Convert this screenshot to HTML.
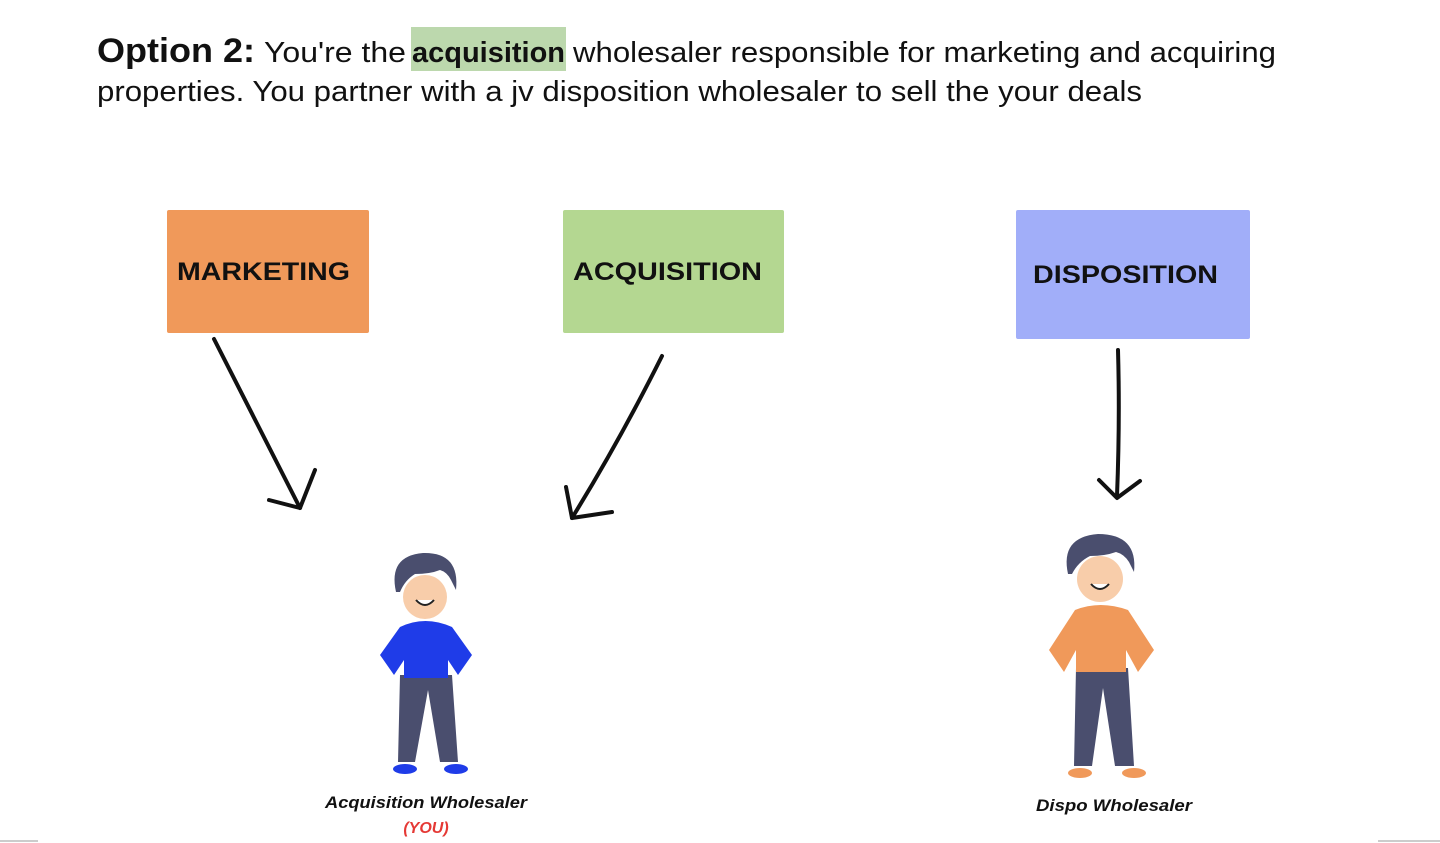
<!DOCTYPE html>
<html><head><meta charset="utf-8"><style>
html,body{margin:0;padding:0;background:#fff;width:1440px;height:843px;overflow:hidden}
svg{display:block}
</style></head><body>
<svg width="1440" height="843" viewBox="0 0 1440 843" xmlns="http://www.w3.org/2000/svg" font-family="Liberation Sans, sans-serif">
<rect x="411" y="27" width="155" height="44" fill="#bcd8ad"/>
<text x="97" y="62" font-size="34" font-weight="bold" fill="#111" textLength="158" lengthAdjust="spacingAndGlyphs">Option 2:</text>
<text x="264" y="62" font-size="29" fill="#111" textLength="142" lengthAdjust="spacingAndGlyphs">You're the</text>
<text x="412" y="62" font-size="29" font-weight="bold" fill="#111" textLength="153" lengthAdjust="spacingAndGlyphs">acquisition</text>
<text x="573" y="62" font-size="29" fill="#111" textLength="703" lengthAdjust="spacingAndGlyphs">wholesaler responsible for marketing and acquiring</text>
<text x="97" y="101" font-size="29" fill="#111" textLength="1045" lengthAdjust="spacingAndGlyphs">properties. You partner with a jv disposition wholesaler to sell the your deals</text>

<rect x="167" y="210" width="202" height="123" fill="#f0995a" rx="2"/>
<text x="177" y="280" font-size="25" font-weight="bold" fill="#111" textLength="173" lengthAdjust="spacingAndGlyphs">MARKETING</text>
<rect x="563" y="210" width="221" height="123" fill="#b4d791" rx="2"/>
<text x="573" y="280" font-size="25" font-weight="bold" fill="#111" textLength="189" lengthAdjust="spacingAndGlyphs">ACQUISITION</text>
<rect x="1016" y="210" width="234" height="129" fill="#a1aef9" rx="2"/>
<text x="1033" y="283" font-size="25" font-weight="bold" fill="#111" textLength="185" lengthAdjust="spacingAndGlyphs">DISPOSITION</text>

<g stroke="#111" stroke-width="4" fill="none" stroke-linecap="round" stroke-linejoin="round">
<path d="M214 339 Q255 420 300 508"/>
<path d="M269 500 L300 508 L315 470"/>
<path d="M662 356 Q620 440 572 518"/>
<path d="M566 487 L572 518 L612 512"/>
<path d="M1118 350 Q1120 420 1117 496"/>
<path d="M1099 480 L1117 498 L1140 481"/>
</g>

<!-- left figure -->
<g>
<path d="M400 675 L398 762 L415 762 L428 690 L440 762 L458 762 L452 675 Z" fill="#4a4e6e"/>
<ellipse cx="405" cy="769" rx="12" ry="5" fill="#1f3ce8"/>
<ellipse cx="456" cy="769" rx="12" ry="5" fill="#1f3ce8"/>
<path d="M400 627 Q425 615 452 627 L472 655 L458 675 L448 660 L448 678 L404 678 L404 660 L394 675 L380 655 Z" fill="#1f3ce8"/>
<ellipse cx="425" cy="597" rx="22" ry="22" fill="#f8cdaa"/>
<path d="M396 592 Q388 556 423 553 Q460 552 456 590 L451 580 Q447 572 440 570 Q430 574 415 574 Q405 580 400 592 Z" fill="#4a4e6e"/>
<path d="M416 600 Q425 610 434 600" stroke="#222" stroke-width="2" fill="#fff"/>
</g>
<text x="426" y="808" font-size="17" font-weight="bold" font-style="italic" fill="#111" text-anchor="middle" textLength="202" lengthAdjust="spacingAndGlyphs">Acquisition Wholesaler</text>
<text x="426" y="833" font-size="16" font-weight="bold" font-style="italic" fill="#e53935" text-anchor="middle">(YOU)</text>

<!-- right figure -->
<g>
<path d="M1076 668 L1074 766 L1092 766 L1103 688 L1115 766 L1134 766 L1128 668 Z" fill="#4a4e6e"/>
<ellipse cx="1080" cy="773" rx="12" ry="5" fill="#f0995a"/>
<ellipse cx="1134" cy="773" rx="12" ry="5" fill="#f0995a"/>
<path d="M1075 610 Q1100 600 1128 610 L1154 650 L1138 672 L1126 650 L1126 672 L1076 672 L1076 650 L1064 672 L1049 650 Z" fill="#f0995a"/>
<ellipse cx="1100" cy="579" rx="23" ry="23" fill="#f8cdaa"/>
<path d="M1068 574 Q1060 537 1098 534 Q1138 534 1134 572 L1129 562 Q1124 554 1116 552 Q1105 556 1090 556 Q1078 562 1072 574 Z" fill="#4a4e6e"/>
<path d="M1091 584 Q1100 594 1109 584" stroke="#222" stroke-width="2" fill="#fff"/>
</g>
<text x="1114" y="811" font-size="17" font-weight="bold" font-style="italic" fill="#111" text-anchor="middle" textLength="156" lengthAdjust="spacingAndGlyphs">Dispo Wholesaler</text>

<line x1="0" y1="841" x2="38" y2="841" stroke="#ccc" stroke-width="2"/>
<line x1="1378" y1="841" x2="1440" y2="841" stroke="#ccc" stroke-width="2"/>
</svg>
</body></html>
